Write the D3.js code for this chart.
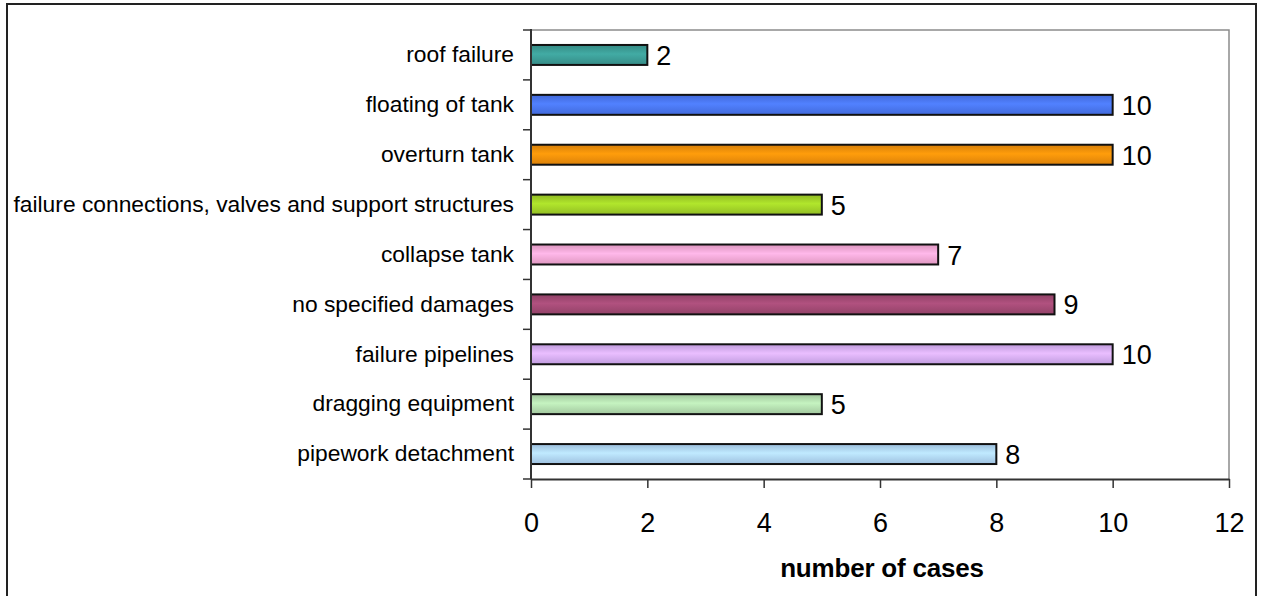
<!DOCTYPE html>
<html>
<head>
<meta charset="utf-8">
<script src="https://cdn.jsdelivr.net/npm/d3@7"></script>
<style>
  body { margin: 0; background: #fff; }
  svg { display: block; font-family: "Liberation Sans", Arial, sans-serif; }
</style>
</head>
<body>
<svg width="1264" height="596"></svg>
<script>
// data, top to bottom
let categories = ["roof failure", "floating of tank", "overturn tank",
  "failure connections, valves and support structures", "collapse tank",
  "no specified damages", "failure pipelines", "dragging equipment", "pipework detachment"];
let cases = [2, 10, 10, 5, 7, 9, 10, 5, 8];
let barColors = ["#3c9c96", "#4a76f4", "#f4900a", "#a2d228", "#f8a8d6",
  "#a24a74", "#d6aef8", "#b4deb0", "#b0d6f8"];
let xTicks = [0, 2, 4, 6, 8, 10, 12];
let xTitle = "number of cases";

let svg = d3.select("svg");

// outer frame
svg.append("rect")
  .attr("x", 7).attr("y", 4)
  .attr("width", 1249).attr("height", 620)
  .attr("fill", "none").attr("stroke", "#222").attr("stroke-width", 2);

let plotL = 531, plotR = 1229, plotT = 30, plotB = 479;

let x = d3.scaleLinear().domain([0, 12]).range([plotL, plotR]);
let y = d3.scaleBand().domain(categories).range([plotT, plotB])
  .paddingInner(0.6).paddingOuter(0.3);

// gradients
let defs = svg.append("defs");
barColors.forEach((c, i) => {
  let g = defs.append("linearGradient").attr("id", "g" + i)
    .attr("x1", 0).attr("y1", 0).attr("x2", 0).attr("y2", 1);
  let base = d3.color(c);
  g.append("stop").attr("offset", "0%").attr("stop-color", base.darker(0.35));
  g.append("stop").attr("offset", "45%").attr("stop-color", base.brighter(0.25));
  g.append("stop").attr("offset", "100%").attr("stop-color", base.darker(0.3));
});

// plot border (top/right gray)
svg.append("path")
  .attr("d", `M${plotL},${plotT}H${plotR}V${plotB}`)
  .attr("fill", "none").attr("stroke", "#8c8c8c").attr("stroke-width", 1.5);

// bars
svg.append("g").selectAll("rect")
  .data(cases)
  .join("rect")
    .attr("x", x(0))
    .attr("y", (d, i) => y(categories[i]))
    .attr("width", d => x(d) - x(0))
    .attr("height", y.bandwidth())
    .attr("fill", (d, i) => `url(#g${i})`)
    .attr("stroke", "#111").attr("stroke-width", 2);

// value labels
svg.append("g").selectAll("text")
  .data(cases)
  .join("text")
    .attr("x", d => x(d) + 9)
    .attr("y", (d, i) => y(categories[i]) + y.bandwidth() / 2 + 10)
    .attr("font-size", 27)
    .attr("fill", "#000")
    .text(d => d);

// x axis
let xAxis = svg.append("g")
  .attr("transform", `translate(0,${plotB})`)
  .call(d3.axisBottom(x).tickValues(xTicks).tickSize(9).tickSizeOuter(0).tickPadding(25));
xAxis.select(".domain").attr("stroke", "#333").attr("stroke-width", 2);
xAxis.selectAll(".tick line").attr("stroke", "#333").attr("stroke-width", 1.5);
xAxis.selectAll("text").attr("font-size", 27).attr("fill", "#000")
  .attr("font-family", "Liberation Sans, Arial, sans-serif");

// y axis: labels from band scale, ticks at slot boundaries
let yAxis = svg.append("g")
  .attr("transform", `translate(${plotL},0)`)
  .call(d3.axisLeft(y).tickSize(0).tickPadding(17));
yAxis.select(".domain").attr("d", `M0,${plotT - 1}V${plotB}`)
  .attr("stroke", "#333").attr("stroke-width", 2);
yAxis.selectAll("text").attr("font-size", 22.8).attr("fill", "#000")
  .attr("font-family", "Liberation Sans, Arial, sans-serif");

let step = y.step();
let y0 = y(categories[0]) - y.paddingOuter() * step;
yAxis.append("g").selectAll("line")
  .data(d3.range(categories.length + 1))
  .join("line")
    .attr("x1", -8).attr("x2", 0)
    .attr("y1", i => y0 + i * step).attr("y2", i => y0 + i * step)
    .attr("stroke", "#333").attr("stroke-width", 1.5);

// axis title
svg.append("text")
  .attr("x", 882).attr("y", 577)
  .attr("text-anchor", "middle")
  .attr("font-size", 26).attr("font-weight", "bold")
  .attr("letter-spacing", -0.2)
  .text(xTitle);
</script>
</body>
</html>
